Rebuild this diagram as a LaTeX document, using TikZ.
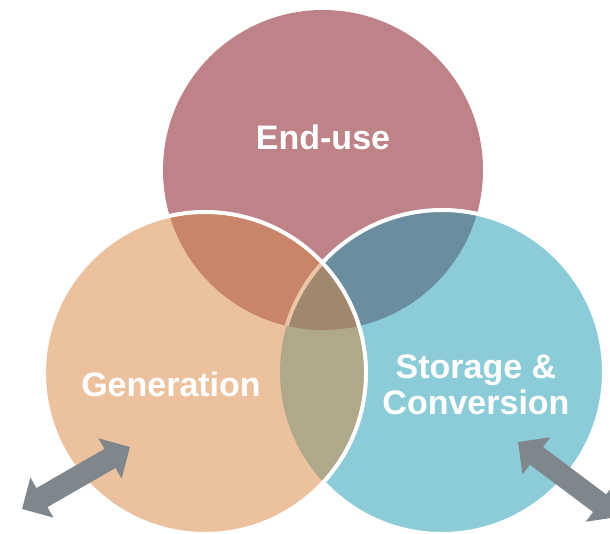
\documentclass[tikz,border=0pt]{standalone}
\usepackage{fontspec}
\setmainfont{Liberation Sans}
\usetikzlibrary{arrows.meta}
\definecolor{cT}{RGB}{189,131,137}
\definecolor{cL}{RGB}{235,193,158}
\definecolor{cR}{RGB}{140,203,216}
\definecolor{cTL}{RGB}{201,133,106}
\definecolor{cTR}{RGB}{106,142,160}
\definecolor{cLR}{RGB}{176,168,139}
\definecolor{cC}{RGB}{160,136,111}
\definecolor{cEdge}{RGB}{236,196,166}
\definecolor{cArrow}{RGB}{127,134,140}
\tikzset{
  lbl/.style={text=white, font=\bfseries\fontsize{34}{36}\selectfont, align=center, inner sep=0pt},
  border/.style={draw=white, line width=4pt},
  twoway/.style={draw=cArrow, line width=22pt, {Triangle[width=45pt,length=23pt]}-{Triangle[width=45pt,length=23pt]}}
}
\begin{document}
\begin{tikzpicture}[x=1pt,y=-1pt]
\useasboundingbox (0,0) rectangle (610,534);
\clip (0,0) rectangle (610,534);
\coordinate (ct) at (323,170);
\coordinate (cl) at (205,373);
\coordinate (cr) at (442,372);
% top circle
\fill[cT] (ct) circle[radius=160];
% right circle
\fill[cR] (cr) circle[radius=162];
\begin{scope}
  \clip (cr) circle[radius=162];
  \fill[cTR] (ct) circle[radius=160];
\end{scope}
\draw[border] (cr) circle[radius=162];
% left circle
\fill[cL] (cl) circle[radius=161];
\begin{scope}
  \clip (cl) circle[radius=161];
  \fill[cTL] (ct) circle[radius=160];
  \fill[cLR] (cr) circle[radius=162];
  \begin{scope}
    \clip (ct) circle[radius=160];
    \fill[cC] (cr) circle[radius=162];
    \draw[cEdge, line width=4pt] (cr) circle[radius=162];
  \end{scope}
\end{scope}
\draw[border] (cl) circle[radius=161];
% labels
\node[lbl] (eu) at (323,137) {End-use};
\node[lbl] (gen) at (171,384) {Generation};
\node[lbl] (sto) at (476,385) {Storage \&\\Conversion};
% arrows
\coordinate (a1) at (22,509);
\coordinate (a2) at (130,447);
\coordinate (b1) at (518,442);
\coordinate (b2) at (618,517);
\draw[twoway] (a1) -- (a2);
\draw[twoway] (b1) -- (b2);
\end{tikzpicture}
\end{document}
